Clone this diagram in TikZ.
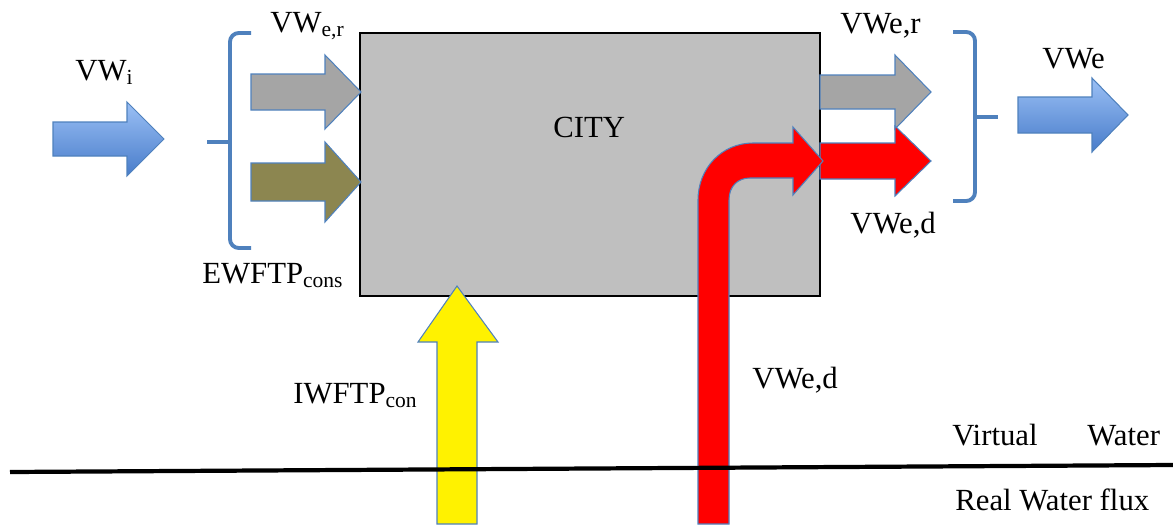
\documentclass[tikz,border=0pt]{standalone}
\usepackage{fontspec}
\setmainfont{LiberationSerif}[Extension=.ttf, UprightFont=*-Regular, BoldFont=*-Bold, ItalicFont=*-Italic]
\usetikzlibrary{positioning}
\definecolor{arrowline}{RGB}{79,129,189}
\definecolor{bluetop}{RGB}{155,192,245}
\definecolor{bluebot}{RGB}{72,124,202}
\definecolor{flowgray}{RGB}{165,165,165}
\definecolor{flowolive}{RGB}{140,134,80}
\definecolor{citygray}{RGB}{191,191,191}
\definecolor{bracecol}{RGB}{79,129,189}

% right pointing block arrow: style, start x, head x, tip x, mid y, half shaft, half head
\newcommand{\rblock}[7]{%
  \path[#1] (#2,{#5-#6}) -- (#3,{#5-#6}) -- (#3,{#5-#7}) -- (#4,#5)
    -- (#3,{#5+#7}) -- (#3,{#5+#6}) -- (#2,{#5+#6}) -- cycle;}

\begin{document}
\begin{tikzpicture}[x=0.02cm, y=-0.02cm,
    lbl/.style={anchor=base west, inner sep=0pt, font=\rmfamily\fontsize{17.5}{20}\selectfont},
    flow/.style={draw=arrowline, line width=0.6pt},
    blueflow/.style={flow, top color=bluetop, bottom color=bluebot},
    brace/.style={draw=bracecol, line width=2.2pt, rounded corners=5pt}]
  \useasboundingbox (0,0) rectangle (1173,524);

  % city
  \draw[fill=citygray, line width=1pt] (360,33) rectangle (820,296);
  \node[lbl] (city) at (553,137) {CITY};

  % inflows
  \rblock{blueflow}{53}{127}{164}{139}{17}{37}
  \node[lbl] (vwi) at (75,80) {VW\textsubscript{i}};
  \draw[brace] (251,33) -- (230,33) -- (230,248) -- (251,248);
  \draw[brace, rounded corners=0pt] (230,142) -- (207,142);
  \rblock{flow, fill=flowgray}{251}{325}{361}{92}{18}{37}
  \rblock{flow, fill=flowolive}{251}{325}{361}{182}{19}{40}
  \node[lbl] (vwer) at (270,32) {VW\textsubscript{e,r}};
  \node[lbl] (ewftp) at (202,283) {EWFTP\textsubscript{cons}};

  % yellow inflow from below
  \path[flow, fill=yellow] (437,524) -- (437,342) -- (418,342) -- (457,286)
    -- (498,342) -- (477,342) -- (477,524) -- cycle;
  \node[lbl] (iwftp) at (293,403) {IWFTP\textsubscript{con}};

  % outflows
  \rblock{flow, fill=flowgray}{820}{895}{931}{92}{17}{37}
  \rblock{flow, fill=red}{820}{895}{931}{161}{18}{35}
  \path[flow, fill=red] (698,524) -- (698,200) .. controls (698,168) and (722,143) .. (753,143)
    -- (793,143) -- (793,127) -- (823,161) -- (793,195) -- (793,178) -- (750,178)
    .. controls (738,178) and (729,186) .. (729,200) -- (729,524) -- cycle;
  \node[lbl] (vwer2) at (840,33) {VWe,r};
  \node[lbl] (vwed) at (850,233) {VWe,d};
  \node[lbl] (vwed2) at (752,388) {VWe,d};

  \draw[brace] (953,32) -- (975,32) -- (975,201) -- (953,201);
  \draw[brace, rounded corners=0pt] (975,117) -- (998,117);
  \rblock{blueflow}{1018}{1092}{1128}{115}{18}{37}
  \node[lbl] (vwe) at (1042,68) {VWe};

  % real / virtual boundary
  \coordinate (gl) at (10,472);
  \coordinate (gr) at (1173,465);
  \draw[line width=2.4pt] (gl) -- (gr);
  \node[lbl] (virt) at (952,445) {Virtual};
  \node[lbl] (wat) at (1087,445) {Water};
  \node[lbl] (real) at (955,510) {Real Water flux};
\end{tikzpicture}
\end{document}
